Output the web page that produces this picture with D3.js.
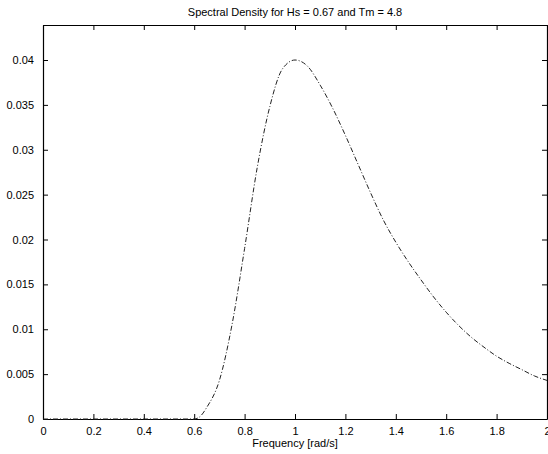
<!DOCTYPE html>
<html>
<head>
<meta charset="utf-8">
<script src="https://cdn.jsdelivr.net/npm/d3@7"></script>
<style>
  body { margin: 0; background: #fff; }
  svg { display: block; font-family: "Liberation Sans", Arial, sans-serif; }
</style>
</head>
<body>
<svg id="chart" width="548" height="454"></svg>
<script>
// values
const freq = [0, 0.1, 0.2, 0.3, 0.4, 0.5, 0.6, 0.62, 0.65, 0.7, 0.75, 0.8, 0.85, 0.9, 0.95, 1.0,
  1.05, 1.1, 1.15, 1.2, 1.25, 1.3, 1.35, 1.4, 1.45, 1.5, 1.55, 1.6, 1.65, 1.7,
  1.75, 1.8, 1.85, 1.9, 1.95, 2.0];
const density = [0, 0, 0, 0, 0, 0, 0, 0.0002, 0.0013, 0.0043, 0.0105, 0.0190, 0.0280, 0.0348, 0.0390, 0.0400,
  0.0393, 0.0372, 0.0346, 0.0316, 0.0284, 0.0252, 0.0222, 0.0197, 0.0175, 0.0155, 0.0136, 0.0119, 0.0104, 0.0091,
  0.0080, 0.0070, 0.0062, 0.0055, 0.0048, 0.0043];
const xTicks = [0, 0.2, 0.4, 0.6, 0.8, 1, 1.2, 1.4, 1.6, 1.8, 2];
const yTicks = [0, 0.005, 0.01, 0.015, 0.02, 0.025, 0.03, 0.035, 0.04];

const title = 'Spectral Density for Hs = 0.67 and Tm = 4.8';
const xLabel = 'Frequency [rad/s]';

const svg = d3.select('#chart');
const mLeft = 43, mRight = 547, mTop = 25, mBottom = 419;

const x = d3.scaleLinear().domain([0, 2]).range([mLeft, mRight]);
const y = d3.scaleLinear().domain([0, 0.0439]).range([mBottom, mTop]);

const fmt = d => d === 0 ? '0' : String(+d.toFixed(3));

// axes, ticks pointing inwards like MATLAB
svg.append('g')
  .attr('transform', `translate(0,${mBottom})`)
  .call(d3.axisBottom(x).tickValues(xTicks).tickSizeInner(-5).tickSizeOuter(0).tickPadding(8).tickFormat(fmt));
svg.append('g')
  .attr('transform', `translate(0,${mTop})`)
  .call(d3.axisTop(x).tickValues(xTicks).tickSizeInner(-5).tickSizeOuter(0).tickFormat(''));
svg.append('g')
  .attr('transform', `translate(${mLeft},0)`)
  .call(d3.axisLeft(y).tickValues(yTicks).tickSizeInner(-5).tickSizeOuter(0).tickPadding(9).tickFormat(fmt));
svg.append('g')
  .attr('transform', `translate(${mRight},0)`)
  .call(d3.axisRight(y).tickValues(yTicks).tickSizeInner(-5).tickSizeOuter(0).tickFormat(''));

svg.selectAll('.domain').attr('stroke', '#000').attr('stroke-width', 1.2);
svg.selectAll('.tick line').attr('stroke', '#000');
svg.selectAll('.tick text').attr('fill', '#000').attr('font-size', 11)
  .attr('font-family', '"Liberation Sans", Arial, sans-serif');

// spectrum curve, dash-dot
const line = d3.line()
  .x((d, i) => x(freq[i]))
  .y(d => y(d))
  .curve(d3.curveMonotoneX);

svg.append('path')
  .datum(density)
  .attr('d', line)
  .attr('fill', 'none')
  .attr('stroke', '#222')
  .attr('stroke-width', 1)
  .attr('stroke-dasharray', '5,2,1,2');

svg.append('text')
  .attr('x', (mLeft + mRight) / 2)
  .attr('y', 16)
  .attr('text-anchor', 'middle')
  .attr('font-size', 11)
  .text(title);

svg.append('text')
  .attr('x', (mLeft + mRight) / 2)
  .attr('y', 447)
  .attr('text-anchor', 'middle')
  .attr('font-size', 11)
  .text(xLabel);
</script>
</body>
</html>
